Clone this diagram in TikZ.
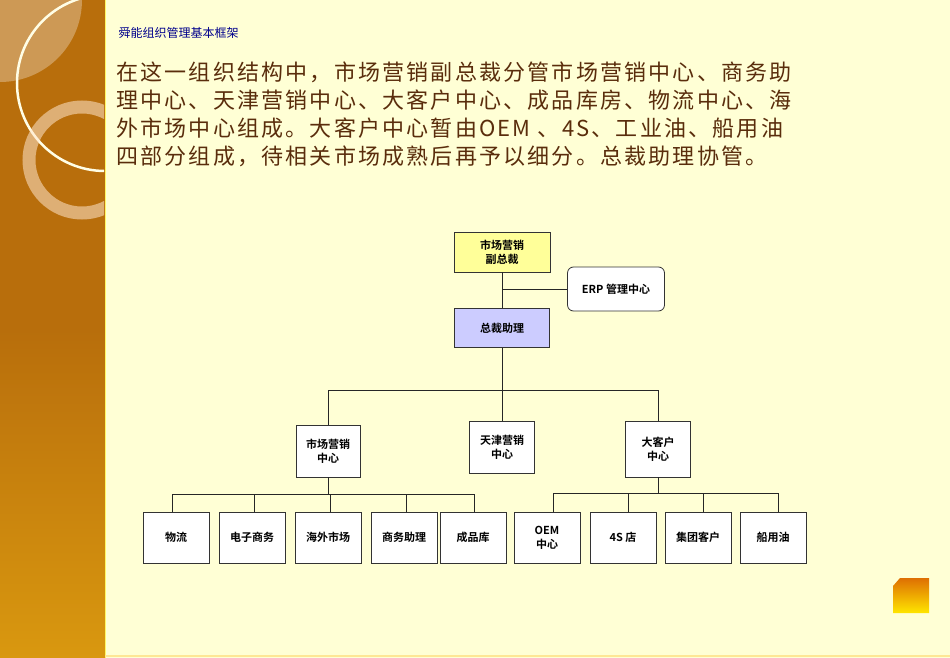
\documentclass[tikz,border=0pt]{standalone}
\usepackage{fontspec}
\newfontfamily\cjk{Noto Sans CJK SC}
\newfontfamily\cjkb{Noto Sans CJK SC Bold}
\definecolor{bg}{HTML}{FFFFD5}
\definecolor{side2}{HTML}{B86E0C}
\definecolor{side3}{HTML}{D9980F}
\definecolor{brown}{HTML}{5A2D0C}
\definecolor{vp}{HTML}{FFFF99}
\definecolor{asst}{HTML}{CCCCFF}
\begin{document}
\begin{tikzpicture}[x=1pt,y=-1pt,
  box/.style={draw=black!80,line width=0.8pt,fill=white,minimum width=66pt,minimum height=51pt,inner sep=1pt,align=center,font=\cjkb\fontsize{11}{14}\selectfont},
  ln/.style={draw=black!85,line width=0.7pt}]
\useasboundingbox (0,0) rectangle (950,658);
\fill[bg] (0,0) rectangle (950,658);
\shade[top color=side2,bottom color=side3,middle color=side2] (0,0) rectangle (105,658);
\begin{scope}
\clip (0,0) rectangle (104,658);
\fill[white,opacity=0.3] (0,0) circle (82);
\draw[white!90!yellow,line width=2.5pt] (105,83) circle (88);
\draw[white!80!orange,opacity=0.55,line width=13pt] (82,160) circle (53);
\end{scope}
\draw[yellow!60!white,line width=1pt] (105,0) -- (105,658);
\draw[yellow!60!orange!40!white,line width=1.5pt] (105,656) -- (950,656);
\node[anchor=west,text=blue!55!black,font=\cjk\fontsize{12}{14}\selectfont] (title) at (115,33) {舜能组织管理基本框架};
\begin{scope}[every node/.style={anchor=west,text=brown,font=\cjk\addfontfeature{LetterSpace=10}\fontsize{22}{26}\selectfont,inner sep=0pt}]
\node (l1) at (116,72) {在这一组织结构中，市场营销副总裁分管市场营销中心、商务助};
\node (l2) at (116,100) {理中心、天津营销中心、大客户中心、成品库房、物流中心、海};
\node (l3) at (116,128) {外市场中心组成。大客户中心暂由OEM 、4S、工业油、船用油};
\node (l4) at (116,156) {四部分组成，待相关市场成熟后再予以细分。总裁助理协管。};
\end{scope}
\node[box,fill=vp,minimum width=96pt,minimum height=40pt] (vp) at (502,252) {市场营销\\副总裁};
\node[box,rounded corners=6pt,minimum width=97pt,minimum height=44pt] (erp) at (616,289) {ERP 管理中心};
\node[box,fill=asst,minimum width=95pt,minimum height=39pt] (as) at (502,328) {总裁助理};
\node[box,minimum width=64pt,minimum height=52pt] (m1) at (328,451) {市场营销\\中心};
\node[box,minimum width=65pt,minimum height=52pt] (m2) at (502,447) {天津营销\\中心};
\node[box,minimum width=65pt,minimum height=56pt] (m3) at (658,449) {大客户\\中心};
\foreach \n/\x/\t in {b1/176/物流,b2/252/电子商务,b3/328/海外市场,b4/404/商务助理,b5/473/成品库,b6/547/OEM\\中心,b7/623/4S 店,b8/698/集团客户,b9/773/船用油}
  \node[box] (\n) at (\x,537.5) {\t};
\coordinate (j1) at (502,289);
\draw[ln] (vp.south) -- (as.north);
\draw[ln] (j1) -- (erp.west);
\draw[ln] (as.south) -- (502,390);
\draw[ln] (m1.north) -- (328,390) -| (m3.north);
\draw[ln] (502,390) -- (m2.north);
\draw[ln] (m1.south) -- (328,494);
\draw[ln] (172,512) -- (172,494) -- (474,494) -- (474,512);
\foreach \x in {254,330,406} \draw[ln] (\x,494) -- (\x,512);
\draw[ln] (m3.south) -- (658,493);
\draw[ln] (553,512) -- (553,493) -- (778,493) -- (778,512);
\foreach \x in {628,703} \draw[ln] (\x,493) -- (\x,512);
\shade[top color=orange!80!brown,bottom color=yellow!80!orange] (900,578) -- (929,578) -- (929,613) -- (893,613) -- (893,586) -- cycle;
\end{tikzpicture}
\end{document}
